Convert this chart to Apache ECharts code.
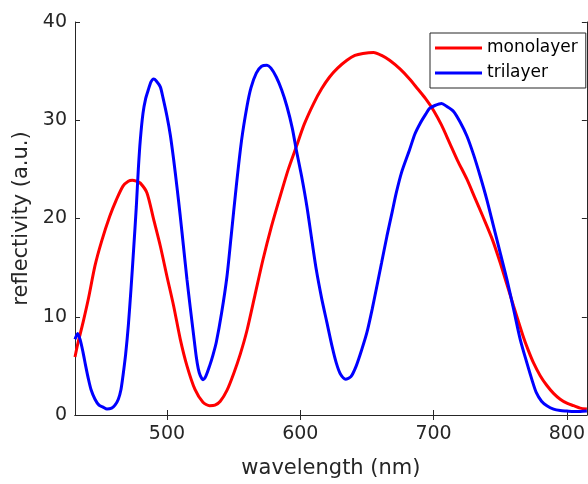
<!DOCTYPE html>
<html>
<head>
<meta charset="utf-8">
<script src="https://cdn.jsdelivr.net/npm/echarts@6/dist/echarts.min.js"></script>
<style>html,body{margin:0;padding:0;background:#fff;}#c{width:588px;height:484px;}</style>
</head>
<body>
<div id="c"></div>
<script>
const xTicks = [500, 600, 700, 800];
const yTicks = [0, 10, 20, 30, 40];
const seriesNames = ['monolayer', 'trilayer'];

const monoWl = [431,433,437,441,446,451,457,462,467,471,474,477,480,485,490,495,500,505,510,515,521,527,532,536,540,545,550,555,560,566,572,578,585,591,597,603,610,616,622,628,635,641,647,655,661,667,675,682,688,694,700,706,712,718,725,731,737,744,750,755,760,767,771,775,780,785,790,795,800,805,810,815];
const monoVal = [5.9,7.2,9.4,11.8,15.2,17.7,20.2,21.9,23.3,23.8,23.9,23.8,23.6,22.6,19.9,17.2,14.1,11.1,7.7,5.0,2.6,1.3,0.95,1.0,1.4,2.5,4.2,6.2,8.6,12.2,15.8,19.0,22.3,25.0,27.3,29.6,31.7,33.2,34.4,35.3,36.1,36.6,36.8,36.9,36.6,36.1,35.2,34.2,33.2,32.2,31.0,29.5,27.7,25.9,24.0,22.1,20.2,17.9,15.5,13.3,11.1,8.1,6.6,5.3,4.0,3.0,2.2,1.6,1.2,0.95,0.7,0.6];

const triWl = [431,433,435,437,439,441,443,446,449,452,455,458.5,461,463.5,465.5,467,469,471,473,475,477,478.5,480,482,484,486,488,490,492,495,497,500,502.5,505,507.5,510,512.5,515,517.5,520,522,523.5,525,527,529,532,534.5,537,541,545,548,552,556,560,563,567,571,575,578,582,586,590,594,597,601,605,609,612,616,620,624,627,630,634,638,642,646,650,654,657,661,665,669,672,676,682,686,690,694,697,701,706,710,715,720,725,730,735,740,745,750,755,760,765,770,774,777,781,785,790,795,800,805,810,815];
const triVal = [7.7,8.3,7.6,6.4,5.0,3.7,2.6,1.6,1.0,0.8,0.6,0.7,1.0,1.6,2.6,4.0,6.2,9.1,12.8,16.9,21.2,25.0,28.0,30.7,32.2,33.1,33.9,34.2,34.0,33.4,32.3,30.4,28.5,26.0,23.2,20.2,17.0,13.8,10.9,8.1,5.9,4.7,4.0,3.6,3.9,5.0,6.1,7.4,10.4,14.1,18.0,23.3,28.0,31.4,33.3,34.8,35.5,35.6,35.3,34.4,33.1,31.4,29.2,27.0,24.3,21.2,17.5,14.8,11.9,9.4,6.9,5.3,4.2,3.65,3.9,5.0,6.6,8.4,10.8,12.8,15.5,18.2,20.7,22.6,24.7,27.0,28.6,29.7,30.6,31.2,31.5,31.7,31.4,30.9,29.8,28.4,26.5,24.3,21.9,19.2,16.5,13.8,10.8,7.7,5.3,3.5,2.3,1.4,0.95,0.6,0.45,0.4,0.35,0.35,0.4];

const pair = (xs, ys) => xs.map((x, i) => [x, ys[i]]);
const FONT = 'DejaVu Sans';
const AX = '#262626';

const chart = echarts.init(document.getElementById('c'), null, {renderer: 'canvas'});
const baseX = {
  type: 'value', min: 431, max: 815,
  axisLine: {show: true, lineStyle: {color: AX, width: 1}},
  axisTick: {show: true, inside: true, length: 5, customValues: xTicks, lineStyle: {color: AX}},
  splitLine: {show: false}
};
const baseY = {
  type: 'value', min: 0, max: 40, interval: 10,
  axisLine: {show: true, lineStyle: {color: AX, width: 1}},
  axisTick: {show: true, inside: true, length: 5, customValues: yTicks, lineStyle: {color: AX}},
  splitLine: {show: false}
};
chart.setOption({
  animation: false,
  backgroundColor: '#fff',
  grid: {left: 75, top: 22, right: 1, bottom: 68, containLabel: false},
  legend: {
    data: seriesNames,
    orient: 'vertical',
    left: 430, top: 33,
    backgroundColor: '#fff',
    borderColor: AX, borderWidth: 1,
    padding: [5, 8, 5, 5],
    itemGap: 5,
    itemWidth: 47, itemHeight: 3,
    icon: 'rect',
    textStyle: {fontFamily: FONT, fontSize: 17, color: '#000', lineHeight: 20, padding: [0, 0, 0, 0]}
  },
  xAxis: [
    Object.assign({}, baseX, {
      position: 'bottom',
      name: 'wavelength (nm)', nameLocation: 'middle', nameGap: 43,
      nameTextStyle: {fontFamily: FONT, fontSize: 21, color: AX},
      axisLabel: {show: true, customValues: xTicks, margin: 10, fontFamily: FONT, fontSize: 19, color: AX}
    }),
    Object.assign({}, baseX, {position: 'top', axisLabel: {show: false}})
  ],
  yAxis: [
    Object.assign({}, baseY, {
      position: 'left',
      name: 'reflectivity (a.u.)', nameLocation: 'middle', nameGap: 36,
      nameTextStyle: {fontFamily: FONT, fontSize: 21, color: AX},
      axisLabel: {show: true, customValues: yTicks, margin: 8, fontFamily: FONT, fontSize: 19, color: AX}
    }),
    Object.assign({}, baseY, {position: 'right', axisLabel: {show: false}})
  ],
  series: [
    {name: seriesNames[0], type: 'line', xAxisIndex: 0, yAxisIndex: 0, data: pair(monoWl, monoVal),
     showSymbol: false, smooth: 0.25, lineStyle: {color: '#ff0000', width: 3}, itemStyle: {color: '#ff0000'}},
    {name: seriesNames[1], type: 'line', xAxisIndex: 0, yAxisIndex: 0, data: pair(triWl, triVal),
     showSymbol: false, smooth: 0.25, lineStyle: {color: '#0000ff', width: 3}, itemStyle: {color: '#0000ff'}}
  ]
});
</script>
</body>
</html>
